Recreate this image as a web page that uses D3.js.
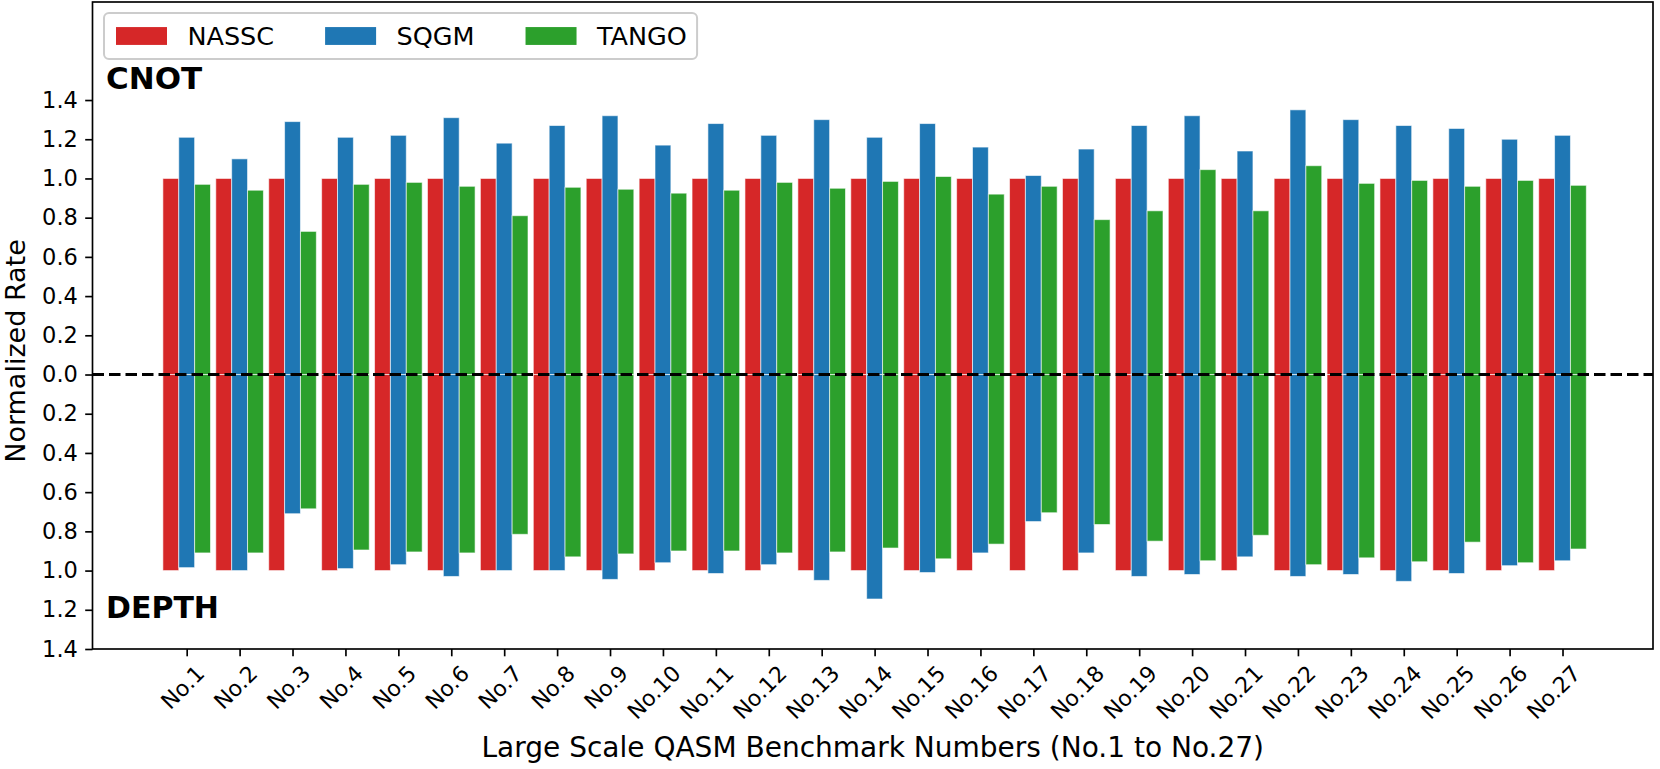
<!DOCTYPE html>
<html>
<head>
<meta charset="utf-8">
<script src="https://cdn.jsdelivr.net/npm/d3@7"></script>
<style>
  body { margin: 0; background: #fff; }
  text { font-family: "DejaVu Sans", sans-serif; }
</style>
</head>
<body>
<div id="chart"></div>
<script>
// benchmark labels
var benchmarks = d3.range(1, 28).map(function (i) { return "No." + i; });
var methods = ["NASSC", "SQGM", "TANGO"];

// CNOT count, normalized to NASSC (upper half)
var nasscCnot = [1, 1, 1, 1, 1, 1, 1, 1, 1, 1, 1, 1, 1, 1, 1, 1, 1, 1, 1, 1, 1, 1, 1, 1, 1, 1, 1];
var sqgmCnot = [1.21, 1.10, 1.29, 1.21, 1.22, 1.31, 1.18, 1.27, 1.32, 1.17, 1.28, 1.22, 1.30, 1.21,
  1.28, 1.16, 1.015, 1.15, 1.27, 1.32, 1.14, 1.35, 1.30, 1.27, 1.255, 1.20, 1.22];
var tangoCnot = [0.97, 0.94, 0.73, 0.97, 0.98, 0.96, 0.81, 0.955, 0.945, 0.925, 0.94, 0.98, 0.95, 0.985,
  1.01, 0.92, 0.96, 0.79, 0.835, 1.045, 0.835, 1.065, 0.975, 0.99, 0.96, 0.99, 0.965];

// circuit depth, normalized to NASSC (lower half)
var nasscDepth = [1, 1, 1, 1, 1, 1, 1, 1, 1, 1, 1, 1, 1, 1, 1, 1, 1, 1, 1, 1, 1, 1, 1, 1, 1, 1, 1];
var sqgmDepth = [0.985, 1.0, 0.71, 0.99, 0.97, 1.03, 1.0, 1.0, 1.045, 0.96, 1.015, 0.97, 1.05, 1.145,
  1.01, 0.91, 0.75, 0.91, 1.03, 1.02, 0.93, 1.03, 1.02, 1.055, 1.015, 0.975, 0.95];
var tangoDepth = [0.91, 0.91, 0.685, 0.895, 0.905, 0.91, 0.815, 0.93, 0.915, 0.9, 0.9, 0.91, 0.905, 0.885,
  0.94, 0.865, 0.705, 0.765, 0.85, 0.95, 0.82, 0.97, 0.935, 0.955, 0.855, 0.96, 0.89];

var yTicks = [-1.4, -1.2, -1.0, -0.8, -0.6, -0.4, -0.2, 0, 0.2, 0.4, 0.6, 0.8, 1.0, 1.2, 1.4];

var colors = { NASSC: "#d62728", SQGM: "#1f77b4", TANGO: "#2ca02c" };

function draw() {
  var W = 1660, H = 769;
  var mL = 92.5, mR = 1653, mT = 2, mB = 649;
  var barW = 0.3;

  var svg = d3.select("#chart").append("svg")
    .attr("width", W)
    .attr("height", H);

  var x = d3.scaleLinear().domain([-1.78, 27.71]).range([mL, mR]);
  var y = d3.scaleLinear().domain([-1.4, 1.9]).range([mB, mT]);

  // flatten into bar records
  var bars = [];
  benchmarks.forEach(function (b, i) {
    var up = [nasscCnot[i], sqgmCnot[i], tangoCnot[i]];
    var down = [nasscDepth[i], sqgmDepth[i], tangoDepth[i]];
    methods.forEach(function (m, j) {
      bars.push({ i: i, m: m, off: (j - 1) * barW, v: up[j] });
      bars.push({ i: i, m: m, off: (j - 1) * barW, v: -down[j] });
    });
  });

  svg.append("g")
    .selectAll("rect")
    .data(bars)
    .enter()
    .append("rect")
    .attr("x", function (d) { return x(d.i + d.off - barW / 2); })
    .attr("width", function (d) { return x(barW) - x(0); })
    .attr("y", function (d) { return y(Math.max(0, d.v)); })
    .attr("height", function (d) { return Math.abs(y(d.v) - y(0)); })
    .attr("fill", function (d) { return colors[d.m]; })
    .attr("stroke", "#ffffff")
    .attr("stroke-opacity", 0.6)
    .attr("stroke-width", 1);

  // dashed zero line
  svg.append("line")
    .attr("x1", mL).attr("x2", mR)
    .attr("y1", y(0)).attr("y2", y(0))
    .attr("stroke", "#000")
    .attr("stroke-width", 3.1)
    .attr("stroke-dasharray", "11.5,5");

  // y axis
  var yAxis = svg.append("g")
    .attr("transform", "translate(" + mL + ",0)")
    .call(d3.axisLeft(y).tickValues(yTicks).tickSize(7.3).tickPadding(7.3)
      .tickFormat(function (d) { return Math.abs(d).toFixed(1); }));
  yAxis.select(".domain").remove();
  yAxis.selectAll(".tick line").attr("stroke-width", 1.67);
  yAxis.selectAll(".tick text")
    .attr("font-size", "22.5px")
    .attr("fill", "#000")
    .attr("font-family", "DejaVu Sans");

  // x axis
  var xAxis = svg.append("g")
    .attr("transform", "translate(0," + mB + ")")
    .call(d3.axisBottom(x).tickValues(d3.range(benchmarks.length)).tickSize(7.3)
      .tickFormat(function (d) { return benchmarks[d]; }));
  xAxis.select(".domain").remove();
  xAxis.selectAll(".tick line").attr("stroke-width", 1.67);
  xAxis.selectAll(".tick text")
    .attr("font-size", "22px")
    .attr("fill", "#000")
    .attr("font-family", "DejaVu Sans")
    .attr("text-anchor", "end")
    .attr("x", 0)
    .attr("y", 0)
    .attr("dy", "0.76em")
    .attr("transform", "translate(7,14) rotate(-45)");

  // frame
  svg.append("rect")
    .attr("x", mL).attr("y", mT)
    .attr("width", mR - mL).attr("height", mB - mT)
    .attr("fill", "none")
    .attr("stroke", "#000")
    .attr("stroke-width", 1.67);

  // axis titles
  svg.append("text")
    .attr("x", (mL + mR) / 2)
    .attr("y", 757)
    .attr("text-anchor", "middle")
    .attr("font-size", "28px")
    .text("Large Scale QASM Benchmark Numbers (No.1 to No.27)");

  svg.append("text")
    .attr("transform", "translate(25,351) rotate(-90)")
    .attr("text-anchor", "middle")
    .attr("font-size", "27px")
    .text("Normalized Rate");

  // section labels
  svg.append("text")
    .attr("x", 106).attr("y", 89)
    .attr("font-size", "31px")
    .attr("font-weight", "bold")
    .text("CNOT");

  svg.append("text")
    .attr("x", 106).attr("y", 618)
    .attr("font-size", "30px")
    .attr("font-weight", "bold")
    .text("DEPTH");

  // legend
  var fs = 25.5;
  var legend = svg.append("g");
  var box = legend.append("rect")
    .attr("x", 104).attr("y", 13)
    .attr("height", 46)
    .attr("rx", 5).attr("ry", 5)
    .attr("fill", "#fff")
    .attr("fill-opacity", 0.8)
    .attr("stroke", "#cccccc")
    .attr("stroke-width", 2);

  var cx = 116;
  methods.forEach(function (m) {
    legend.append("rect")
      .attr("x", cx).attr("y", 36 - 0.35 * fs)
      .attr("width", 2 * fs).attr("height", 0.7 * fs)
      .attr("fill", colors[m]);
    var t = legend.append("text")
      .attr("x", cx + 2 * fs + 0.8 * fs)
      .attr("y", 36 + 0.36 * fs)
      .attr("font-size", fs + "px")
      .text(m);
    var tw = t.node().getComputedTextLength();
    cx = cx + 2 * fs + 0.8 * fs + tw + 2 * fs;
  });
  box.attr("width", cx - 2 * fs + 0.4 * fs - 104);
}

draw();
</script>
</body>
</html>
